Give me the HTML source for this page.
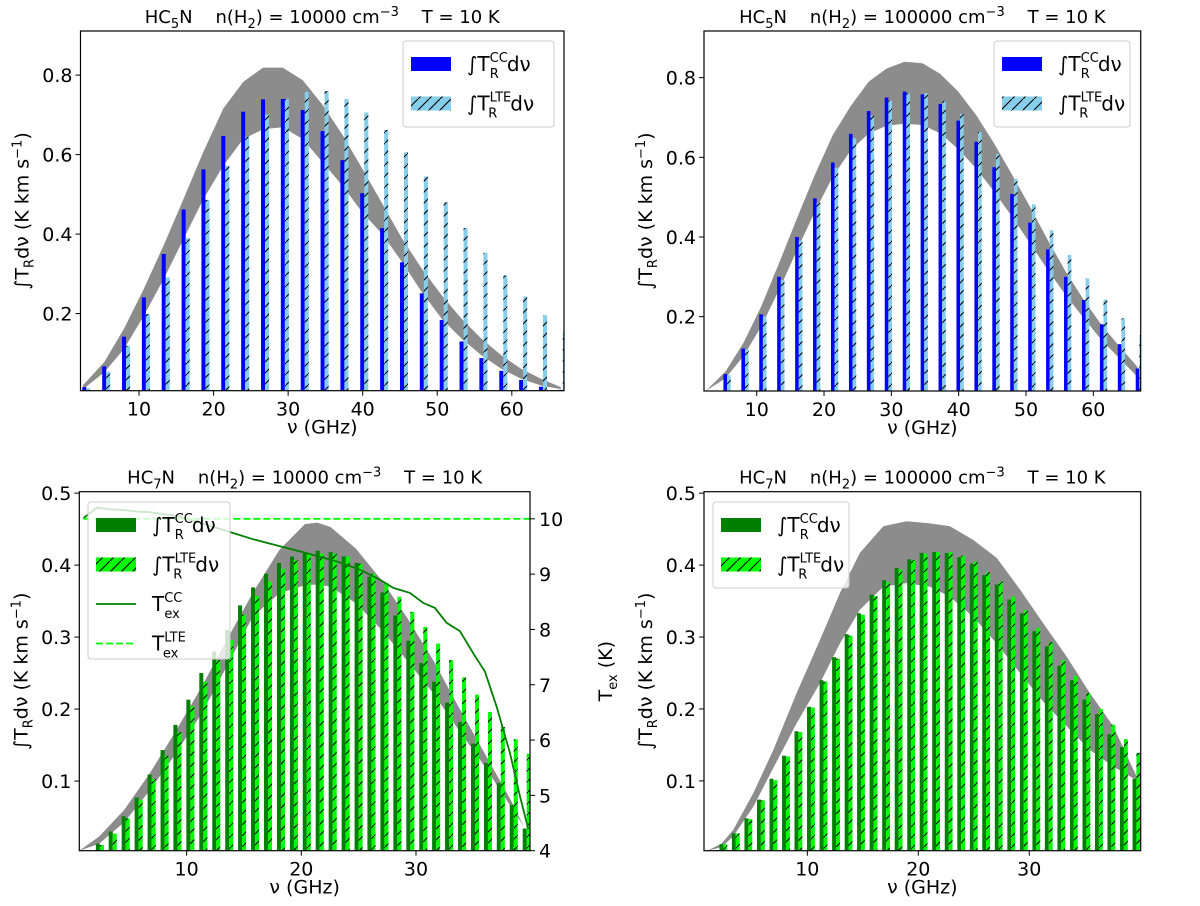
<!DOCTYPE html>
<html><head><meta charset="utf-8"><style>
body{margin:0;background:#fff}
svg text{font-family:"DejaVu Sans","Liberation Sans",sans-serif;fill:#000;white-space:pre}
</style></head><body>
<svg id="fig" width="1200" height="901" xmlns="http://www.w3.org/2000/svg">
<defs>
<pattern id="hatch" patternUnits="userSpaceOnUse" width="11" height="11"><line x1="0" y1="11" x2="11" y2="0" stroke="#000" stroke-width="1.1"/></pattern>
</defs>
</svg>
<script>
// ---- data ----
const tlFreq=[2.66,5.33,7.99,10.65,13.31,15.98,18.64,21.30,23.97,26.63,29.29,31.96,34.62,37.28,39.94,42.61,45.27,47.93,50.60,53.26,55.92,58.59,61.25,63.91,66.57];
const tlCC=[0.015,0.067,0.142,0.241,0.35,0.462,0.563,0.647,0.708,0.739,0.74,0.712,0.659,0.586,0.503,0.415,0.329,0.251,0.184,0.13,0.088,0.056,0.033,0.016,0.008];
const tlLTE=[0.012,0.054,0.119,0.199,0.291,0.39,0.486,0.572,0.645,0.701,0.74,0.758,0.76,0.74,0.706,0.662,0.606,0.545,0.48,0.415,0.353,0.296,0.243,0.196,0.155];
const tlBandF=[2.5,5.33,7.99,10.65,13.31,15.98,18.64,21.30,23.97,26.63,29.29,31.96,34.62,37.28,39.94,42.61,45.27,47.93,50.60,53.26,55.92,58.59,61.25,63.91,66.57];
const tlBandHi=[0.02,0.078,0.162,0.263,0.372,0.489,0.607,0.716,0.783,0.819,0.819,0.787,0.725,0.65,0.565,0.477,0.389,0.313,0.246,0.187,0.137,0.095,0.061,0.036,0.015];
const tlBandLo=[0.01,0.052,0.111,0.195,0.287,0.388,0.488,0.572,0.639,0.664,0.669,0.639,0.581,0.522,0.455,0.4,0.33,0.254,0.187,0.137,0.095,0.061,0.036,0.019,0.01];

const trFreq=[5.33,7.99,10.65,13.31,15.98,18.64,21.30,23.97,26.63,29.29,31.96,34.62,37.28,39.94,42.61,45.27,47.93,50.60,53.26,55.92,58.59,61.25,63.91,66.57];
const trCC=[0.056,0.12,0.206,0.3,0.4,0.497,0.587,0.659,0.716,0.75,0.765,0.758,0.734,0.692,0.639,0.575,0.508,0.436,0.369,0.3,0.242,0.181,0.131,0.07];
const trLTE=[0.053,0.118,0.2,0.292,0.391,0.486,0.574,0.648,0.705,0.742,0.761,0.761,0.742,0.709,0.664,0.608,0.546,0.482,0.417,0.355,0.296,0.243,0.196,0.154];
const trBandF=[2.47,5.33,7.99,10.65,13.31,15.98,18.64,21.30,23.97,26.63,29.29,31.96,34.62,37.28,39.94,42.61,45.27,47.93,50.60,53.26,55.92,58.59,61.25,63.91,66.57];
const trBandHi=[0.014,0.062,0.133,0.225,0.334,0.447,0.556,0.656,0.729,0.79,0.823,0.84,0.836,0.809,0.765,0.706,0.635,0.556,0.476,0.392,0.313,0.242,0.179,0.125,0.074];
const trBandLo=[0.014,0.045,0.1,0.175,0.267,0.367,0.464,0.551,0.618,0.66,0.679,0.684,0.681,0.66,0.62,0.572,0.514,0.451,0.384,0.317,0.254,0.196,0.141,0.095,0.049];

const hc7Freq=[2.26,3.38,4.51,5.64,6.77,7.90,9.02,10.15,11.28,12.41,13.54,14.66,15.79,16.92,18.05,19.18,20.30,21.43,22.56,23.69,24.82,25.94,27.07,28.20,29.33,30.46,31.58,32.71,33.84,34.97,36.10,37.22,38.35,39.48];
const blCC=[0.013,0.03,0.051,0.077,0.109,0.143,0.178,0.213,0.25,0.28,0.31,0.344,0.369,0.388,0.403,0.412,0.417,0.42,0.418,0.412,0.403,0.384,0.362,0.33,0.295,0.264,0.238,0.209,0.182,0.152,0.125,0.097,0.067,0.034];
const blLTE=[0.011,0.027,0.048,0.074,0.103,0.135,0.168,0.204,0.238,0.268,0.296,0.331,0.357,0.377,0.395,0.407,0.415,0.416,0.416,0.412,0.402,0.388,0.375,0.356,0.335,0.314,0.291,0.268,0.244,0.22,0.196,0.175,0.158,0.138];
const blBandF=[0.64,2.38,4.56,6.8,9.04,11.31,13.49,15.75,18.08,20.31,21.39,22.55,24.76,27.0,29.18,31.5,33.71,36.01,38.25,39.41];
const blBandHi=[0.003,0.023,0.06,0.111,0.169,0.231,0.296,0.361,0.421,0.457,0.459,0.453,0.423,0.379,0.328,0.268,0.203,0.138,0.074,0.037];
const blBandLo=[0.003,0.013,0.043,0.087,0.138,0.194,0.259,0.328,0.361,0.372,0.373,0.37,0.347,0.31,0.268,0.222,0.171,0.12,0.065,0.037];
const texF=[0.99,2.15,3.31,4.48,5.64,6.8,9.13,11.16,13.49,15.81,17.84,19.88,21.33,23.08,25.11,26.85,28.02,29.47,30.63,31.65,32.67,33.83,34.99,36.01,37.02,38.19,39.06,39.79];
const texCC=[10.01,10.2,10.17,10.16,10.13,10.12,10.05,9.93,9.78,9.63,9.52,9.41,9.33,9.23,9.08,8.9,8.75,8.66,8.48,8.39,8.12,7.97,7.57,7.24,6.61,5.77,4.99,4.39];
const texLTE=[10,10];
const texLTEF=[0.99,39.94];

const brCC=[0.012,0.027,0.048,0.074,0.103,0.135,0.169,0.203,0.24,0.272,0.304,0.333,0.359,0.379,0.396,0.408,0.417,0.418,0.417,0.411,0.402,0.386,0.373,0.352,0.333,0.308,0.287,0.26,0.24,0.213,0.193,0.165,0.147,0.103];
const brLTE=[0.012,0.027,0.047,0.073,0.101,0.134,0.168,0.202,0.238,0.27,0.302,0.331,0.357,0.376,0.394,0.407,0.416,0.418,0.418,0.413,0.405,0.39,0.377,0.356,0.337,0.313,0.293,0.268,0.246,0.222,0.2,0.178,0.158,0.139];
const brBandF=[1.0,2.28,3.33,5.13,6.93,9.03,11.14,12.94,14.74,16.85,18.95,21.05,22.85,24.95,27.06,29.16,31.26,33.36,35.46,37.57,39.67];
const brBandHi=[0.003,0.013,0.032,0.083,0.143,0.222,0.296,0.361,0.417,0.454,0.461,0.458,0.454,0.435,0.41,0.366,0.319,0.273,0.222,0.176,0.106];
const brBandLo=[0.003,0.008,0.023,0.064,0.118,0.18,0.236,0.291,0.338,0.37,0.375,0.37,0.356,0.328,0.291,0.25,0.21,0.176,0.143,0.12,0.101];

const yTicksHC5=[0.2,0.4,0.6,0.8];
const xTicksHC5=[10,20,30,40,50,60];
const yTicksHC7=[0.1,0.2,0.3,0.4,0.5];
const xTicksHC7=[10,20,30];
const texTicks=[4,5,6,7,8,9,10];

// ---- drawing ----
const NS='http://www.w3.org/2000/svg';
const svg=document.getElementById('fig');
function mk(tag,attrs,parent){const e=document.createElementNS(NS,tag);for(const k in attrs)e.setAttribute(k,attrs[k]);(parent||svg).appendChild(e);return e;}

function panel(p){
  const g=mk('g',{});
  
  
  const sx=v=>p.x0+(v-p.xd[0])/(p.xd[1]-p.xd[0])*(p.x1-p.x0);
  const sy=v=>p.y1-(v-p.yd[0])/(p.yd[1]-p.yd[0])*(p.y1-p.y0);
  const clipId='clip-'+p.name;
  const cp=mk('clipPath',{id:clipId},g);mk('rect',{x:p.x0,y:p.y0,width:p.x1-p.x0,height:p.y1-p.y0},cp);
  const pg=mk('g',{'clip-path':'url(#'+clipId+')'},g);
  let d='';
  p.bandF.forEach((f,i)=>{d+=(i?'L':'M')+sx(f).toFixed(1)+','+sy(p.bandHi[i]).toFixed(1);});
  for(let i=p.bandLoF.length-1;i>=0;i--)d+='L'+sx(p.bandLoF[i]).toFixed(1)+','+sy(p.bandLo[i]).toFixed(1);
  const band=mk('path',{d:d+'Z',fill:'#8c8c8c'},pg);
  
  
  const w=p.bw;
  p.freq.forEach((f,i)=>{
    const xa=sx(f-w/2),xb=sx(f+w/2),xc=sx(f+1.5*w);
    const r1=mk('rect',{x:xa,y:sy(p.cc[i]),width:xb-xa,height:p.y1-sy(p.cc[i]),fill:p.c1},pg);
    
    
    const r2=mk('rect',{x:xb,y:sy(p.lte[i]),width:xc-xb,height:p.y1-sy(p.lte[i]),fill:p.c2},pg);
    
    
    mk('rect',{x:xb,y:sy(p.lte[i]),width:xc-xb,height:p.y1-sy(p.lte[i]),fill:'url(#hatch)'},pg);
  });
  if(p.tex){
    const ty=v=>p.y1-(v-4)/(10.49-4)*(p.y1-p.y0);
    let dd='';texF.forEach((f,i)=>{dd+=(i?'L':'M')+sx(f).toFixed(1)+','+ty(texCC[i]).toFixed(1);});
    const l1=mk('path',{d:dd,fill:'none',stroke:'#007f00','stroke-width':1.8},pg);
    
    
    const l2=mk('line',{x1:sx(texLTEF[0]),y1:ty(texLTE[0]),x2:sx(texLTEF[1]),y2:ty(texLTE[1]),stroke:'#00ff00','stroke-width':1.8,'stroke-dasharray':'7,3'},pg);
    
    
    texTicks.forEach(t=>{
      mk('line',{x1:p.x1,x2:p.x1+5,y1:ty(t),y2:ty(t),stroke:'#000'},g);
      const tt=mk('text',{x:p.x1+9,y:ty(t)+7,'font-size':19},g);tt.textContent=t;
      
      
    });
    const yl=mk('text',{transform:`translate(${p.x1+82},${(p.y0+p.y1)/2}) rotate(-90)`,'text-anchor':'middle','font-size':19},g);
    yl.innerHTML='T<tspan font-size="13" dy="5">ex</tspan><tspan dy="-5"> (K)</tspan>';
    
    
  }
  mk('rect',{x:p.x0,y:p.y0,width:p.x1-p.x0,height:p.y1-p.y0,fill:'none',stroke:'#000','stroke-width':1.2},g);
  p.yt.forEach(t=>{
    mk('line',{x1:p.x0-5,x2:p.x0,y1:sy(t),y2:sy(t),stroke:'#000'},g);
    const tt=mk('text',{x:p.x0-8,y:sy(t)+7,'text-anchor':'end','font-size':19},g);tt.textContent=t.toFixed(1);
    
    
  });
  p.xt.forEach(t=>{
    mk('line',{x1:sx(t),x2:sx(t),y1:p.y1,y2:p.y1+5,stroke:'#000'},g);
    const tt=mk('text',{x:sx(t),y:p.y1+25,'text-anchor':'middle','font-size':19},g);tt.textContent=t;
    
    
  });
  const xl=mk('text',{x:(p.x0+p.x1)/2,y:p.y1+43,'text-anchor':'middle','font-size':19},g);xl.textContent='ν (GHz)';
  
  
  const yl=mk('text',{transform:`translate(${p.x0-52},${(p.y0+p.y1)/2}) rotate(-90)`,'text-anchor':'middle','font-size':19},g);
  yl.innerHTML='∫T<tspan font-size="13" dy="5">R</tspan><tspan dy="-5">dν (K km s</tspan><tspan font-size="13" dy="-7">−1</tspan><tspan dy="7">)</tspan>';
  
  
  const ti=mk('text',{x:(p.x0+p.x1)/2,y:p.y0-8,'text-anchor':'middle','font-size':18},g);
  ti.innerHTML=p.mol+'<tspan font-size="13" dy="5">'+p.sub+'</tspan><tspan dy="-5">N    n(H</tspan><tspan font-size="13" dy="5">2</tspan><tspan dy="-5">) = '+p.dens+' cm</tspan><tspan font-size="13" dy="-7">−3</tspan><tspan dy="7">    T = 10 K</tspan>';
  
  
  const L=p.leg;
  const lg=mk('g',{},g);
  
  
  mk('rect',{x:L.x,y:L.y,width:L.w,height:L.h,rx:3,fill:'#fff','fill-opacity':0.8,stroke:'#ccc'},lg);
  const items=[['CC',p.c1,false,'bar'],['LTE',p.c2,true,'bar']];
  if(p.tex){items.push(['CC','#007f00',false,'line'],['LTE','#00ff00',false,'dash']);}
  items.forEach((it,i)=>{
    const cy=L.y+23+i*39.5;
    const ent=mk('g',{},lg);
    
    
    if(it[3]==='bar'){
      mk('rect',{x:L.x+8,y:cy-7,width:40,height:14,fill:it[1]},ent);
      if(it[2])mk('rect',{x:L.x+8,y:cy-7,width:40,height:14,fill:'url(#hatch)'},ent);
      const t=mk('text',{x:L.x+64,y:cy+7,'font-size':20},ent);
      t.innerHTML='∫T<tspan font-size="13" dy="-9">'+it[0]+'</tspan><tspan font-size="13" dx="'+(it[0]==='CC'?-18:-23)+'" dy="16">R</tspan><tspan dx="'+(it[0]==='CC'?8:13)+'" dy="-7">dν</tspan>';
    }else{
      mk('line',{x1:L.x+8,x2:L.x+48,y1:cy,y2:cy,stroke:it[1],'stroke-width':1.8,'stroke-dasharray':it[3]==='dash'?'7,3':'none'},ent);
      const t=mk('text',{x:L.x+64,y:cy+7,'font-size':20},ent);
      t.innerHTML='T<tspan font-size="13" dy="-9">'+it[0]+'</tspan><tspan font-size="13" dx="'+(it[0]==='CC'?-18:-23)+'" dy="16">ex</tspan>';
    }
  });
}

panel({name:'panel-hc5n-1e4',x0:80.5,x1:564,y0:31,y1:390.7,xd:[2.15,67.0],yd:[0.006,0.911],yt:yTicksHC5,xt:xTicksHC5,
  freq:tlFreq,cc:tlCC,lte:tlLTE,bandF:tlBandF,bandHi:tlBandHi,bandLoF:tlBandF,bandLo:tlBandLo,bw:0.54,c1:'#0000ff',c2:'#87ceeb',
  mol:'HC',sub:'5',dens:'10000',leg:{x:403,y:41,w:151,h:86}});
panel({name:'panel-hc5n-1e5',x0:704,x1:1140.7,y0:31,y1:391,xd:[2.17,67.04],yd:[0.0135,0.917],yt:yTicksHC5,xt:xTicksHC5,
  freq:trFreq,cc:trCC,lte:trLTE,bandF:trBandF,bandHi:trBandHi,bandLoF:trBandF,bandLo:trBandLo,bw:0.54,c1:'#0000ff',c2:'#87ceeb',
  mol:'HC',sub:'5',dens:'100000',leg:{x:994,y:41,w:136,h:86}});
panel({name:'panel-hc7n-1e4',x0:79.3,x1:530,y0:491.7,y1:850.7,xd:[0.64,39.94],yd:[0.0032,0.502],yt:yTicksHC7,xt:xTicksHC7,
  freq:hc7Freq,cc:blCC,lte:blLTE,bandF:blBandF,bandHi:blBandHi,bandLoF:blBandF,bandLo:blBandLo,bw:0.35,c1:'#007f00',c2:'#00ff00',
  mol:'HC',sub:'7',dens:'10000',tex:true,leg:{x:88,y:502,w:142,h:157}});
panel({name:'panel-hc7n-1e5',x0:704,x1:1140.7,y0:491.7,y1:850.7,xd:[0.69,40.04],yd:[0.003,0.502],yt:yTicksHC7,xt:xTicksHC7,
  freq:hc7Freq,cc:brCC,lte:brLTE,bandF:brBandF,bandHi:brBandHi,bandLoF:brBandF,bandLo:brBandLo,bw:0.35,c1:'#007f00',c2:'#00ff00',
  mol:'HC',sub:'7',dens:'100000',leg:{x:713,y:502,w:136,h:86}});
</script>
</body></html>
